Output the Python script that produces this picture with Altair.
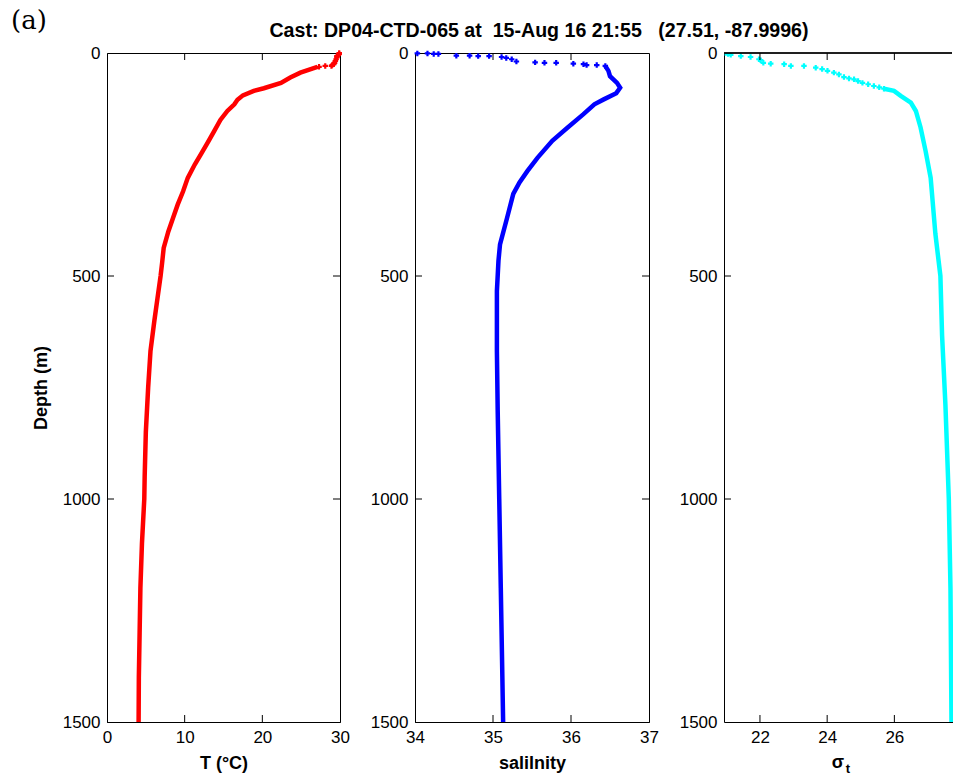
import altair as alt
import pandas as pd

# ---------------- data ----------------
# Temperature (deg C) profile
t_line_depth = [31, 44, 55, 67, 79, 85, 95, 105, 115, 130, 150, 175, 200, 227, 250, 280, 310, 340,
                370, 400, 437, 470, 500, 550, 600, 668, 750, 850, 950, 1000, 1100, 1200, 1300, 1400, 1500]
t_line_val = [27.1, 24.9, 23.6, 22.4, 20.2, 18.9, 17.5, 16.8, 16.4, 15.5, 14.6, 13.8, 13.0, 12.1, 11.3, 10.4, 9.8, 9.1,
              8.5, 7.9, 7.3, 7.1, 6.9, 6.5, 6.1, 5.6, 5.3, 5.0, 4.85, 4.8, 4.5, 4.3, 4.2, 4.1, 4.07]
t_surf_depth = [0, 2, 4, 7, 10, 14, 18, 22, 25, 27, 29, 29, 31]
t_surf_val = [29.9, 29.9, 29.8, 29.6, 29.6, 29.5, 29.4, 29.3, 29.2, 29.0, 28.9, 28.1, 27.3]

# Salinity profile
s_line_depth = [29, 40, 52, 67, 78, 90, 104, 115, 137, 168, 197, 235, 265, 290, 316, 370, 429,
                466, 534, 668, 800, 1000, 1200, 1400, 1500]
s_line_val = [36.44, 36.48, 36.50, 36.59, 36.63, 36.58, 36.42, 36.30, 36.16, 35.95, 35.76, 35.57,
              35.44, 35.34, 35.26, 35.18, 35.09, 35.07, 35.05, 35.05, 35.06, 35.08, 35.10, 35.12, 35.13]
s_surf_depth = [1, 1, 2, 2, 6, 6, 7, 7, 9, 11, 14, 19, 21, 22, 22, 24, 25, 27, 27, 29]
s_surf_val = [34.03, 34.16, 34.24, 34.30, 34.53, 34.70, 34.81, 34.95, 35.11, 35.17, 35.24, 35.30,
              35.54, 35.66, 35.81, 36.03, 36.16, 36.20, 36.33, 36.44]

# Sigma-t profile
g_line_depth = [80, 85, 96, 111, 130, 167, 220, 280, 405, 500, 633, 790, 1000, 1200, 1500]
g_line_val = [25.69, 25.99, 26.19, 26.49, 26.64, 26.78, 26.93, 27.08, 27.22, 27.37, 27.42, 27.52,
              27.62, 27.67, 27.70]
g_surf_depth = [0, 2, 4, 7, 9, 14, 16, 22, 24, 25, 29, 29, 33, 36, 40, 44, 48, 54, 57, 59, 63, 67, 70, 74, 77, 80]
g_surf_val = [20.98, 21.05, 21.13, 21.43, 21.72, 21.97, 22.02, 22.10, 22.32, 22.72, 22.92, 23.31, 23.66,
              23.85, 24.01, 24.20, 24.35, 24.50, 24.65, 24.80, 24.92, 25.05, 25.22, 25.39, 25.55, 25.69]

depth_ticks = [0, 500, 1000, 1500]
inner_depth_ticks = [500, 1000]
t_ticks = [0, 10, 20, 30]
s_ticks = [34, 35, 36, 37]
g_ticks = [22, 24, 26]

TITLE = "Cast: DP04-CTD-065 at\u00a0 15-Aug 16 21:55\u00a0\u00a0 (27.51, -87.9996)"

# ---------------- styling ----------------
FONT = "Liberation Sans"
H = 669
TICK = 7


def panel(line_d, line_v, surf_d, surf_v, color, domain, ticks, inner_ticks, width,
          xtitle, ytitle, box=True):
    line_df = pd.DataFrame({"depth": line_d, "val": line_v})
    surf_df = pd.DataFrame({"depth": surf_d, "val": surf_v})
    xs = alt.Scale(domain=domain, nice=False, zero=False)
    ys = alt.Scale(domain=[0, 1500], reverse=True, nice=False, zero=False)

    x_axis_kw = dict(values=ticks, format="d", ticks=False, tickSize=0, labelFlush=False, labelPadding=7,
                     labelFontSize=17, labelFont=FONT, labelColor="black",
                     domainColor="black", grid=False, titleFontSize=18, titleFont=FONT,
                     titleFontWeight="bold", titleColor="black", titlePadding=9)
    if xtitle:
        x_axis = alt.Axis(title=xtitle, **x_axis_kw)
    else:
        x_axis = alt.Axis(title=None, **x_axis_kw)
    y_axis_kw = dict(values=depth_ticks, format="d", ticks=False, tickSize=0, labelFlush=False, labelPadding=7,
                     labelFontSize=17, labelFont=FONT, labelColor="black",
                     domainColor="black", grid=False, titleFontSize=18, titleFont=FONT,
                     titleFontWeight="bold", titleColor="black", titlePadding=12)
    if ytitle:
        y_axis = alt.Axis(title=ytitle, **y_axis_kw)
    else:
        y_axis = alt.Axis(title=None, **y_axis_kw)

    clip = not box
    line = alt.Chart(line_df).mark_line(color=color, strokeWidth=4.5, clip=clip).encode(
        x=alt.X("val:Q", scale=xs, axis=x_axis),
        y=alt.Y("depth:Q", scale=ys, axis=y_axis),
        order=alt.Order("depth:Q"),
    )
    pts = alt.Chart(surf_df).mark_point(shape="cross", filled=True, size=30, color=color, opacity=1,
                                        clip=clip).encode(
        x=alt.X("val:Q", scale=xs),
        y=alt.Y("depth:Q", scale=ys),
    )
    xt = pd.DataFrame({"val": inner_ticks})
    yt = pd.DataFrame({"depth": inner_depth_ticks})
    top_t = alt.Chart(xt).mark_rule(color="black", strokeWidth=1).encode(
        x=alt.X("val:Q", scale=xs), y=alt.value(0), y2=alt.value(TICK))
    bot_t = alt.Chart(xt).mark_rule(color="black", strokeWidth=1).encode(
        x=alt.X("val:Q", scale=xs), y=alt.value(H - TICK), y2=alt.value(H))
    left_t = alt.Chart(yt).mark_rule(color="black", strokeWidth=1).encode(
        y=alt.Y("depth:Q", scale=ys), x=alt.value(0), x2=alt.value(TICK))
    layers = [line, pts, top_t, bot_t, left_t]
    if box:
        right_t = alt.Chart(yt).mark_rule(color="black", strokeWidth=1).encode(
            y=alt.Y("depth:Q", scale=ys), x=alt.value(width - TICK), x2=alt.value(width))
        layers.append(right_t)
    else:
        top_border = alt.Chart(xt).mark_rule(color="black", strokeWidth=1).encode(
            x=alt.value(0), x2=alt.value(width - 1), y=alt.value(0))
        layers.append(top_border)
    return layers


W1, W2, W3 = 233, 234, 229

p1_layers = panel(t_line_depth, t_line_val, t_surf_depth, t_surf_val, "#ff0000", [0, 30],
                  t_ticks, [10, 20], W1, "T (\u00b0C)", "Depth (m)")
label_a = alt.Chart(pd.DataFrame({"t": ["(a)"]})).mark_text(
    font="DejaVu Serif", fontSize=26, align="left", baseline="middle", color="black"
).encode(text="t:N", x=alt.value(-96), y=alt.value(-32))
p1 = alt.layer(*p1_layers, label_a).properties(
    width=W1, height=H, view=alt.ViewBackground(stroke="black", strokeWidth=1))

p2_layers = panel(s_line_depth, s_line_val, s_surf_depth, s_surf_val, "#0000ff", [34, 37],
                  s_ticks, [35, 36], W2, "salilnity", None)
title_txt = alt.Chart(pd.DataFrame({"t": [TITLE]})).mark_text(
    font=FONT, fontSize=19.6, fontWeight="bold", align="center", baseline="middle", color="black"
).encode(text="t:N", x=alt.value(W2 / 2 + 7), y=alt.value(-22))
p2 = alt.layer(*p2_layers, title_txt).properties(
    width=W2, height=H, view=alt.ViewBackground(stroke="black", strokeWidth=1))

p3_layers = panel(g_line_depth, g_line_val, g_surf_depth, g_surf_val, "#00ffff", [20.93, 27.745],
                  g_ticks, g_ticks, W3, None, None, box=False)
sig = alt.Chart(pd.DataFrame({"t": ["\u03c3"]})).mark_text(
    font=FONT, fontSize=18, fontWeight="bold", align="center", baseline="middle", color="black"
).encode(text="t:N", x=alt.value(114), y=alt.value(H + 41))
sub = alt.Chart(pd.DataFrame({"t": ["t"]})).mark_text(
    font=FONT, fontSize=13, fontWeight="bold", align="center", baseline="middle", color="black"
).encode(text="t:N", x=alt.value(124), y=alt.value(H + 47))
p3 = alt.layer(*p3_layers, sig, sub).properties(
    width=W3, height=H, view=alt.ViewBackground(stroke=None))

chart = alt.hconcat(p1, p2, p3, spacing=75, bounds="flush").properties(
    padding={"left": 10, "top": 7, "right": 0, "bottom": 0},
    background="white",
)

chart.save("out.html", embed_options={"renderer": "svg", "actions": False})
